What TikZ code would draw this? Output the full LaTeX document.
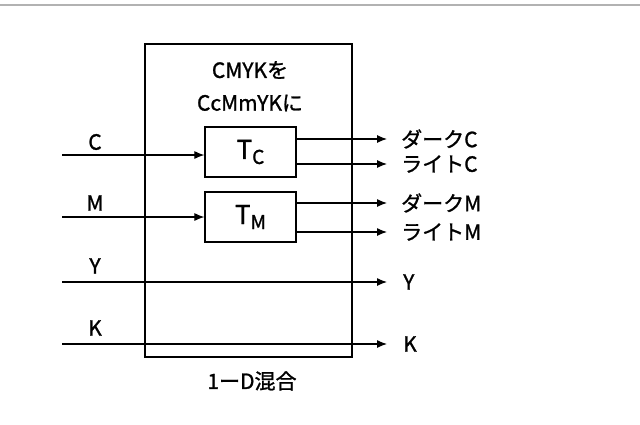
\documentclass[tikz,border=0pt]{standalone}
\usepackage{fontspec}
\setmainfont{Noto Sans CJK JP}[FakeBold=1.2]
\usetikzlibrary{positioning,arrows.meta}
\tikzset{blk/.style={draw, line width=1.2pt, minimum width=91pt, minimum height=50pt, inner sep=0pt},
  sig/.style={line width=1.1pt, -{Latex[length=10pt,width=8pt]}},
  lbl/.style={font=\fontsize{21}{22}\selectfont, inner sep=1pt}}
\begin{document}
\begin{tikzpicture}[x=1pt,y=-1pt]
\useasboundingbox (0,0) rectangle (640,424);
\draw[line width=2pt, gray!60] (0,5) -- (640,5);

\draw[line width=1.3pt] (145,44) rectangle (352,357);
\node[lbl] (title1) at (250,70) {CMYKを};
\node[lbl] (title2) at (250,103) {CcMmYKに};
\node[lbl] (mix) at (252,381) {1ーD混合};

\node[blk] (tc) at (250.5,152) {\fontsize{26}{28}\selectfont T\raisebox{-5pt}{\fontsize{19}{20}\selectfont C}};
\node[blk] (tm) at (250.5,217) {\fontsize{26}{28}\selectfont T\raisebox{-5pt}{\fontsize{19}{20}\selectfont M}};

% inputs
\node[lbl] (c) at (95,142) {C};
\node[lbl] (m) at (95,203) {M};
\node[lbl] (y) at (95,266) {Y};
\node[lbl] (k) at (95,328) {K};
\coordinate (cin) at (62,155);
\coordinate (min) at (62,217);
\coordinate (yin) at (62,282);
\coordinate (kin) at (62,344);
\draw[sig] (cin) -- (cin -| tc.west);
\draw[sig] (min) -- (min -| tm.west);

% outputs
\node[lbl, anchor=west] (dc) at (400,139) {ダークC};
\node[lbl, anchor=west] (lc) at (400,164) {ライトC};
\node[lbl, anchor=west] (dm) at (400,203) {ダークM};
\node[lbl, anchor=west] (lm) at (400,232) {ライトM};
\node[lbl, anchor=west] (yo) at (402,282) {Y};
\node[lbl, anchor=west] (ko) at (402,344) {K};
\coordinate (dce) at (387,139);
\coordinate (lce) at (387,164);
\coordinate (dme) at (387,203);
\coordinate (lme) at (387,232);
\coordinate (yoe) at (387,282);
\coordinate (koe) at (387,344);
\draw[sig] (dce -| tc.east) -- (dce);
\draw[sig] (lce -| tc.east) -- (lce);
\draw[sig] (dme -| tm.east) -- (dme);
\draw[sig] (lme -| tm.east) -- (lme);
\draw[sig] (yin) -- (yoe);
\draw[sig] (kin) -- (koe);
\end{tikzpicture}
\end{document}
